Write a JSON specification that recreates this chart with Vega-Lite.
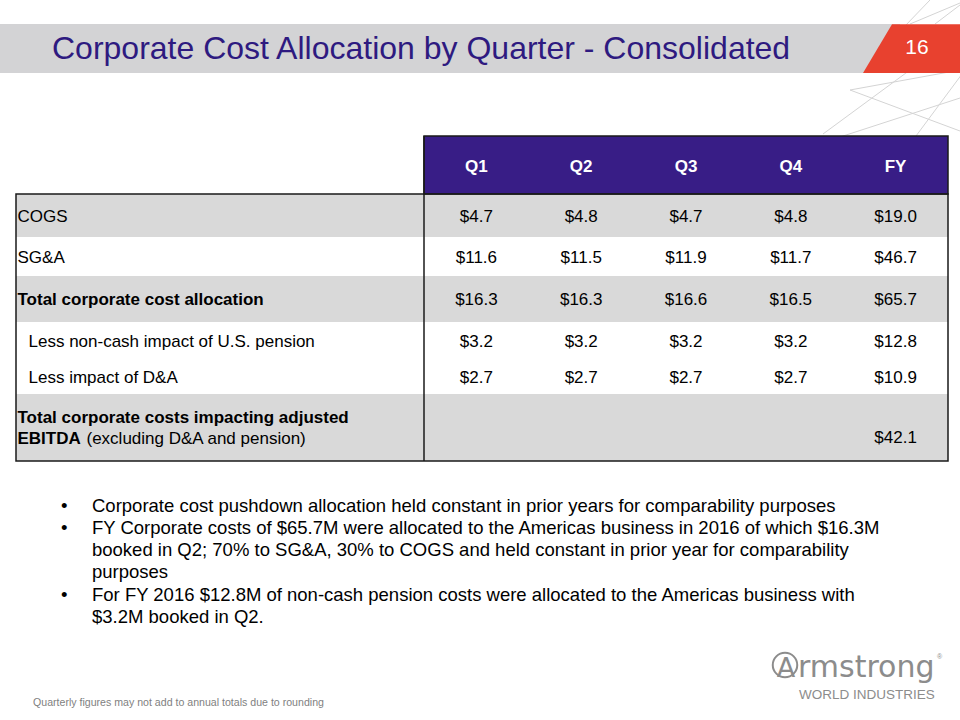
{
  "$schema": "https://vega.github.io/schema/vega-lite/v6.json",
  "width": 960,
  "height": 720,
  "padding": 0,
  "autosize": {"type": "none"},
  "background": "white",
  "config": {"view": {"stroke": null}, "font": "Liberation Sans"},
  "datasets": {
    "cells": [
      {"item": "COGS", "r": 1, "period": "Q1", "c": 1, "v": 4.7},
      {"item": "COGS", "r": 1, "period": "Q2", "c": 2, "v": 4.8},
      {"item": "COGS", "r": 1, "period": "Q3", "c": 3, "v": 4.7},
      {"item": "COGS", "r": 1, "period": "Q4", "c": 4, "v": 4.8},
      {"item": "COGS", "r": 1, "period": "FY", "c": 5, "v": 19.0},
      {"item": "SG&A", "r": 2, "period": "Q1", "c": 1, "v": 11.6},
      {"item": "SG&A", "r": 2, "period": "Q2", "c": 2, "v": 11.5},
      {"item": "SG&A", "r": 2, "period": "Q3", "c": 3, "v": 11.9},
      {"item": "SG&A", "r": 2, "period": "Q4", "c": 4, "v": 11.7},
      {"item": "SG&A", "r": 2, "period": "FY", "c": 5, "v": 46.7},
      {"item": "Total corporate cost allocation", "r": 3, "period": "Q1", "c": 1, "v": 16.3},
      {"item": "Total corporate cost allocation", "r": 3, "period": "Q2", "c": 2, "v": 16.3},
      {"item": "Total corporate cost allocation", "r": 3, "period": "Q3", "c": 3, "v": 16.6},
      {"item": "Total corporate cost allocation", "r": 3, "period": "Q4", "c": 4, "v": 16.5},
      {"item": "Total corporate cost allocation", "r": 3, "period": "FY", "c": 5, "v": 65.7},
      {"item": "Less non-cash impact of U.S. pension", "r": 4, "period": "Q1", "c": 1, "v": 3.2},
      {"item": "Less non-cash impact of U.S. pension", "r": 4, "period": "Q2", "c": 2, "v": 3.2},
      {"item": "Less non-cash impact of U.S. pension", "r": 4, "period": "Q3", "c": 3, "v": 3.2},
      {"item": "Less non-cash impact of U.S. pension", "r": 4, "period": "Q4", "c": 4, "v": 3.2},
      {"item": "Less non-cash impact of U.S. pension", "r": 4, "period": "FY", "c": 5, "v": 12.8},
      {"item": "Less impact of D&A", "r": 5, "period": "Q1", "c": 1, "v": 2.7},
      {"item": "Less impact of D&A", "r": 5, "period": "Q2", "c": 2, "v": 2.7},
      {"item": "Less impact of D&A", "r": 5, "period": "Q3", "c": 3, "v": 2.7},
      {"item": "Less impact of D&A", "r": 5, "period": "Q4", "c": 4, "v": 2.7},
      {"item": "Less impact of D&A", "r": 5, "period": "FY", "c": 5, "v": 10.9},
      {"item": "Total corporate costs impacting adjusted EBITDA", "r": 6, "period": "FY", "c": 5, "v": 42.1}
    ],
    "headers": [
      {"period": "Q1", "c": 1},
      {"period": "Q2", "c": 2},
      {"period": "Q3", "c": 3},
      {"period": "Q4", "c": 4},
      {"period": "FY", "c": 5}
    ],
    "labels": [
      {"label": "COGS", "r": 1, "style": "normal"},
      {"label": "SG&A", "r": 2, "style": "normal"},
      {"label": "Total corporate cost allocation", "r": 3, "style": "bold"},
      {"label": "Less non-cash impact of U.S. pension", "r": 4, "style": "indent"},
      {"label": "Less impact of D&A", "r": 5, "style": "indent"}
    ],
    "bands": [
      {"r0": 0.5, "r1": 1.5},
      {"r0": 2.5, "r1": 3.5},
      {"r0": 5.5, "r1": 6.5}
    ]
  },
  "layer": [
    {"data": {"values": [{}]}, "mark": {"type": "rule", "color": "#d4d4d4", "strokeWidth": 1}, "encoding": {"x": {"value": 850}, "y": {"value": 90}, "x2": {"value": 960}, "y2": {"value": 70}}},
    {"data": {"values": [{}]}, "mark": {"type": "rule", "color": "#d4d4d4", "strokeWidth": 1}, "encoding": {"x": {"value": 840}, "y": {"value": 137}, "x2": {"value": 960}, "y2": {"value": 98}}},
    {"data": {"values": [{}]}, "mark": {"type": "rule", "color": "#d4d4d4", "strokeWidth": 1}, "encoding": {"x": {"value": 850}, "y": {"value": 90}, "x2": {"value": 960}, "y2": {"value": 131}}},
    {"data": {"values": [{}]}, "mark": {"type": "rule", "color": "#d4d4d4", "strokeWidth": 1}, "encoding": {"x": {"value": 910}, "y": {"value": 70}, "x2": {"value": 823}, "y2": {"value": 134}}},
    {"data": {"values": [{}]}, "mark": {"type": "rule", "color": "#d4d4d4", "strokeWidth": 1}, "encoding": {"x": {"value": 962}, "y": {"value": 74}, "x2": {"value": 916}, "y2": {"value": 136}}},
    {"data": {"values": [{}]}, "mark": {"type": "rule", "color": "#d4d4d4", "strokeWidth": 1}, "encoding": {"x": {"value": 930}, "y": {"value": 0}, "x2": {"value": 905}, "y2": {"value": 26}}},
    {"data": {"values": [{}]}, "mark": {"type": "rule", "color": "#d4d4d4", "strokeWidth": 1}, "encoding": {"x": {"value": 960}, "y": {"value": 3}, "x2": {"value": 910}, "y2": {"value": 24}}},
    {"data": {"values": [{}]}, "mark": {"type": "rule", "color": "#d4d4d4", "strokeWidth": 1}, "encoding": {"x": {"value": 935}, "y": {"value": 24}, "x2": {"value": 960}, "y2": {"value": 5}}},
    {"data": {"values": [{}]}, "mark": {"type": "rect", "color": "#D3D3D5"}, "encoding": {"x": {"value": 0}, "x2": {"value": 900}, "y": {"value": 24}, "y2": {"value": 73}}},
    {"data": {"values": [{}]}, "mark": {"type": "point", "filled": true, "color": "#E8412F", "opacity": 1, "shape": "M -0.402 -0.502 L 1.01 -0.502 L 1.01 0.502 L -1 0.502 Z"}, "encoding": {"x": {"value": 911.5}, "y": {"value": 48.6}, "size": {"value": 9409}}},
    {"data": {"values": [{}]}, "mark": {"type": "text", "text": "16", "font": "Liberation Sans", "fontSize": 21, "color": "white", "align": "center", "baseline": "middle"}, "encoding": {"x": {"value": 917}, "y": {"value": 48}}},
    {"data": {"values": [{}]}, "mark": {"type": "text", "text": "Corporate Cost Allocation by Quarter - Consolidated", "font": "Liberation Sans", "fontSize": 32, "color": "#2E1A80", "align": "left", "baseline": "alphabetic"}, "encoding": {"x": {"value": 52}, "y": {"value": 58.5}}},
    {
      "data": {"name": "bands"},
      "mark": {"type": "rect", "color": "#D9D9D9"},
      "encoding": {
        "x": {"datum": 0, "type": "quantitative", "scale": {"type": "linear", "domain": [0, 0.5, 5.5], "range": [16, 424, 948], "nice": false, "zero": false}, "axis": null},
        "x2": {"datum": 5.5},
        "y": {"field": "r0", "type": "quantitative", "scale": {"type": "linear", "domain": [-0.5, 0.5, 1.5, 2.5, 3.5, 4.5, 5.5, 6.5], "range": [136, 194, 237, 276, 322, 360, 394, 461], "nice": false, "zero": false}, "axis": null},
        "y2": {"field": "r1"}
      }
    },
    {
      "data": {"values": [{}]},
      "mark": {"type": "rect", "color": "#381D86", "stroke": "#1a1a1a", "strokeWidth": 1.5},
      "encoding": {
        "x": {"datum": 0.5, "type": "quantitative"},
        "x2": {"datum": 5.5},
        "y": {"datum": -0.5, "type": "quantitative"},
        "y2": {"datum": 0.5}
      }
    },
    {
      "data": {"values": [{}]},
      "mark": {"type": "rect", "fill": null, "fillOpacity": 0, "stroke": "#1a1a1a", "strokeWidth": 1.5},
      "encoding": {
        "x": {"datum": 0, "type": "quantitative"},
        "x2": {"datum": 5.5},
        "y": {"datum": 0.5, "type": "quantitative"},
        "y2": {"datum": 6.5}
      }
    },
    {
      "data": {"values": [{}]},
      "mark": {"type": "rule", "color": "#1a1a1a", "strokeWidth": 1.5},
      "encoding": {
        "x": {"datum": 0.5, "type": "quantitative"},
        "y": {"datum": -0.5, "type": "quantitative"},
        "y2": {"datum": 6.5}
      }
    },
    {
      "data": {"name": "headers"},
      "mark": {"type": "text", "font": "Liberation Sans", "fontSize": 17, "fontWeight": "bold", "color": "white", "align": "center", "baseline": "middle", "dy": 2},
      "encoding": {
        "x": {"field": "c", "type": "quantitative"},
        "y": {"datum": 0, "type": "quantitative"},
        "text": {"field": "period", "type": "nominal"}
      }
    },
    {
      "data": {"name": "cells"},
      "transform": [{"filter": "datum.r < 6"}],
      "mark": {"type": "text", "font": "Liberation Sans", "fontSize": 17, "color": "#000000", "align": "center", "baseline": "middle", "dy": 1},
      "encoding": {
        "x": {"field": "c", "type": "quantitative"},
        "y": {"field": "r", "type": "quantitative"},
        "text": {"field": "v", "type": "quantitative", "format": "$.1f"}
      }
    },
    {
      "data": {"name": "cells"},
      "transform": [{"filter": "datum.r == 6"}],
      "mark": {"type": "text", "font": "Liberation Sans", "fontSize": 17, "color": "#000000", "align": "center", "baseline": "middle", "dy": 10.5},
      "encoding": {
        "x": {"field": "c", "type": "quantitative"},
        "y": {"field": "r", "type": "quantitative"},
        "text": {"field": "v", "type": "quantitative", "format": "$.1f"}
      }
    },
    {
      "data": {"name": "labels"},
      "transform": [{"filter": "datum.style == 'normal'"}],
      "mark": {"type": "text", "font": "Liberation Sans", "fontSize": 17, "color": "#000000", "align": "left", "baseline": "middle", "dx": 1.5, "dy": 1},
      "encoding": {
        "x": {"datum": 0, "type": "quantitative"},
        "y": {"field": "r", "type": "quantitative"},
        "text": {"field": "label", "type": "nominal"}
      }
    },
    {
      "data": {"name": "labels"},
      "transform": [{"filter": "datum.style == 'bold'"}],
      "mark": {"type": "text", "font": "Liberation Sans", "fontSize": 17, "fontWeight": "bold", "color": "#000000", "align": "left", "baseline": "middle", "dx": 1.5, "dy": 1},
      "encoding": {
        "x": {"datum": 0, "type": "quantitative"},
        "y": {"field": "r", "type": "quantitative"},
        "text": {"field": "label", "type": "nominal"}
      }
    },
    {
      "data": {"name": "labels"},
      "transform": [{"filter": "datum.style == 'indent'"}],
      "mark": {"type": "text", "font": "Liberation Sans", "fontSize": 17, "color": "#000000", "align": "left", "baseline": "middle", "dx": 12.5, "dy": 1},
      "encoding": {
        "x": {"datum": 0, "type": "quantitative"},
        "y": {"field": "r", "type": "quantitative"},
        "text": {"field": "label", "type": "nominal"}
      }
    },
    {
      "data": {"values": [{"label": "Total corporate costs impacting adjusted", "r": 6}]},
      "mark": {"type": "text", "font": "Liberation Sans", "fontSize": 17, "fontWeight": "bold", "color": "#000000", "align": "left", "baseline": "middle", "dx": 1.5, "dy": -9.5},
      "encoding": {
        "x": {"datum": 0, "type": "quantitative"},
        "y": {"field": "r", "type": "quantitative"},
        "text": {"field": "label", "type": "nominal"}
      }
    },
    {
      "data": {"values": [{"label": "EBITDA", "r": 6}]},
      "mark": {"type": "text", "font": "Liberation Sans", "fontSize": 17, "fontWeight": "bold", "color": "#000000", "align": "left", "baseline": "middle", "dx": 1.5, "dy": 11.5},
      "encoding": {
        "x": {"datum": 0, "type": "quantitative"},
        "y": {"field": "r", "type": "quantitative"},
        "text": {"field": "label", "type": "nominal"}
      }
    },
    {
      "data": {"values": [{"label": "(excluding D&A and pension)", "r": 6}]},
      "mark": {"type": "text", "font": "Liberation Sans", "fontSize": 17, "color": "#000000", "align": "left", "baseline": "middle", "dx": 70.5, "dy": 11.5},
      "encoding": {
        "x": {"datum": 0, "type": "quantitative"},
        "y": {"field": "r", "type": "quantitative"},
        "text": {"field": "label", "type": "nominal"}
      }
    },
    {"data": {"values": [{}]}, "mark": {"type": "text", "text": "•", "font": "Liberation Sans", "fontSize": 18.5, "color": "#000000", "align": "left", "baseline": "alphabetic"}, "encoding": {"x": {"value": 61}, "y": {"value": 511.5}}},
    {"data": {"values": [{}]}, "mark": {"type": "text", "text": "•", "font": "Liberation Sans", "fontSize": 18.5, "color": "#000000", "align": "left", "baseline": "alphabetic"}, "encoding": {"x": {"value": 61}, "y": {"value": 533.8}}},
    {"data": {"values": [{}]}, "mark": {"type": "text", "text": "•", "font": "Liberation Sans", "fontSize": 18.5, "color": "#000000", "align": "left", "baseline": "alphabetic"}, "encoding": {"x": {"value": 61}, "y": {"value": 600.7}}},
    {
      "data": {"values": [{}]},
      "mark": {"type": "text", "font": "Liberation Sans", "fontSize": 18.5, "color": "#000000", "align": "left", "baseline": "alphabetic", "lineHeight": 22.3,
        "text": [
          "Corporate cost pushdown allocation held constant in prior years for comparability purposes",
          "FY Corporate costs of $65.7M were allocated to the Americas business in 2016 of which $16.3M",
          "booked in Q2; 70% to SG&A, 30% to COGS and held constant in prior year for comparability",
          "purposes",
          "For FY 2016 $12.8M of non-cash pension costs were allocated to the Americas business with",
          "$3.2M booked in Q2."
        ]},
      "encoding": {"x": {"value": 92}, "y": {"value": 511.5}}
    },
    {"data": {"values": [{}]}, "mark": {"type": "point", "shape": "circle", "filled": false, "color": "#8c8c8c", "strokeWidth": 2, "opacity": 1}, "encoding": {"x": {"value": 785}, "y": {"value": 665}, "size": {"value": 600}}},
    {"data": {"values": [{}]}, "mark": {"type": "text", "text": "A", "font": "DejaVu Sans", "fontSize": 27, "color": "#8c8c8c", "align": "center", "baseline": "alphabetic"}, "encoding": {"x": {"value": 786}, "y": {"value": 677}}},
    {"data": {"values": [{}]}, "mark": {"type": "text", "text": "rmstrong", "font": "DejaVu Sans", "fontSize": 30, "color": "#8c8c8c", "align": "left", "baseline": "alphabetic"}, "encoding": {"x": {"value": 798}, "y": {"value": 677}}},
    {"data": {"values": [{}]}, "mark": {"type": "text", "text": "®", "font": "Liberation Sans", "fontSize": 7, "color": "#8c8c8c", "align": "left", "baseline": "middle"}, "encoding": {"x": {"value": 937}, "y": {"value": 657}}},
    {"data": {"values": [{}]}, "mark": {"type": "text", "text": "WORLD INDUSTRIES", "font": "Liberation Sans", "fontSize": 13.5, "color": "#8c8c8c", "align": "left", "baseline": "middle"}, "encoding": {"x": {"value": 799}, "y": {"value": 695}}},
    {"data": {"values": [{}]}, "mark": {"type": "text", "text": "Quarterly figures may not add to annual totals due to rounding", "font": "Liberation Sans", "fontSize": 10.6, "color": "#7f7f7f", "align": "left", "baseline": "middle"}, "encoding": {"x": {"value": 33}, "y": {"value": 702.5}}}
  ]
}
